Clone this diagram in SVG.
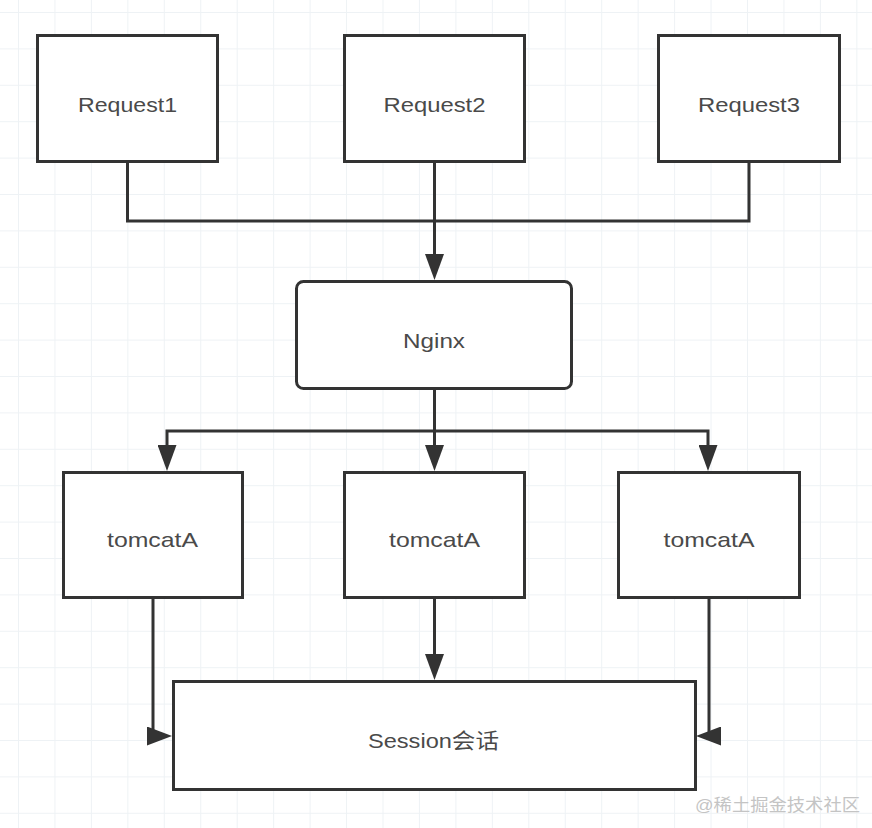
<svg xmlns="http://www.w3.org/2000/svg" width="872" height="828" viewBox="0 0 872 828">
<defs>
<pattern id="grid" patternUnits="userSpaceOnUse" x="18" y="12" width="36.45" height="36.4">
<path d="M0.5,0 V36.4 M0,0.5 H36.45" fill="none" stroke="#eef2f5" stroke-width="1"/>
</pattern>
<marker id="arrow" viewBox="0 0 26 19" refX="0" refY="9.5" markerWidth="26" markerHeight="19" markerUnits="userSpaceOnUse" orient="auto">
<path d="M0,0 L26,9.5 L0,19 Z" fill="#333"/>
</marker>
<marker id="arrowR" viewBox="0 0 25 19" refX="6" refY="9.5" markerWidth="25" markerHeight="19" markerUnits="userSpaceOnUse" orient="0">
<path d="M0,0 L25,9.5 L0,19 Z" fill="#333"/>
</marker>
<marker id="arrowL" viewBox="0 0 25 19" refX="12" refY="9.5" markerWidth="25" markerHeight="19" markerUnits="userSpaceOnUse" orient="180">
<path d="M0,0 L25,9.5 L0,19 Z" fill="#333"/>
</marker>
</defs>
<style>
.box{fill:#fff;stroke:#333;stroke-width:3}
.lbl{font-family:"Liberation Sans","Noto Sans CJK SC",sans-serif;font-size:21px;fill:#4a4a4a;text-anchor:middle}
.conn{fill:none;stroke:#333;stroke-width:3}
.wm{font-family:"Liberation Sans","Noto Sans CJK SC",sans-serif;font-size:17px;fill:#c4c4c4}
</style>
<rect width="872" height="828" fill="#fff"/>
<rect width="872" height="828" fill="url(#grid)"/>

<g id="connectors">
<path class="conn" d="M127.5,163 V221 H749 V163"/>
<path class="conn" d="M434.5,163 V254" marker-end="url(#arrow)"/>
<path class="conn" d="M434.5,390 V445" marker-end="url(#arrow)"/>
<path class="conn" d="M434.5,431 H167 V445" marker-end="url(#arrow)"/>
<path class="conn" d="M434.5,431 H708 V445" marker-end="url(#arrow)"/>
<path class="conn" d="M153,599 V736" marker-end="url(#arrowR)"/>
<path class="conn" d="M434.5,599 V654" marker-end="url(#arrow)"/>
<path class="conn" d="M709,599 V736" marker-end="url(#arrowL)"/>
</g>

<g id="request1">
<rect class="box" x="37.5" y="35.5" width="180" height="126"/>
<text class="lbl" x="127.5" y="112" textLength="99" lengthAdjust="spacingAndGlyphs">Request1</text>
</g>
<g id="request2">
<rect class="box" x="344.5" y="35.5" width="180" height="126"/>
<text class="lbl" x="434.5" y="112" textLength="102" lengthAdjust="spacingAndGlyphs">Request2</text>
</g>
<g id="request3">
<rect class="box" x="658.5" y="35.5" width="181" height="126"/>
<text class="lbl" x="749" y="112" textLength="102" lengthAdjust="spacingAndGlyphs">Request3</text>
</g>
<g id="nginx">
<rect class="box" x="296.5" y="281.5" width="275" height="107" rx="7"/>
<text class="lbl" x="434" y="348" textLength="62" lengthAdjust="spacingAndGlyphs">Nginx</text>
</g>
<g id="tomcat1">
<rect class="box" x="63.5" y="472.5" width="179" height="125"/>
<text class="lbl" x="152.5" y="547" textLength="91" lengthAdjust="spacingAndGlyphs">tomcatA</text>
</g>
<g id="tomcat2">
<rect class="box" x="344.5" y="472.5" width="180" height="125"/>
<text class="lbl" x="434.5" y="547" textLength="91" lengthAdjust="spacingAndGlyphs">tomcatA</text>
</g>
<g id="tomcat3">
<rect class="box" x="618.5" y="472.5" width="181" height="125"/>
<text class="lbl" x="709" y="547" textLength="91" lengthAdjust="spacingAndGlyphs">tomcatA</text>
</g>
<g id="session">
<rect class="box" x="173.5" y="681.5" width="522" height="108"/>
<text class="lbl" x="433.5" y="748" textLength="131" lengthAdjust="spacingAndGlyphs">Session会话</text>
</g>
<text class="wm" x="695" y="811" textLength="165" lengthAdjust="spacingAndGlyphs">@稀土掘金技术社区</text>
</svg>
